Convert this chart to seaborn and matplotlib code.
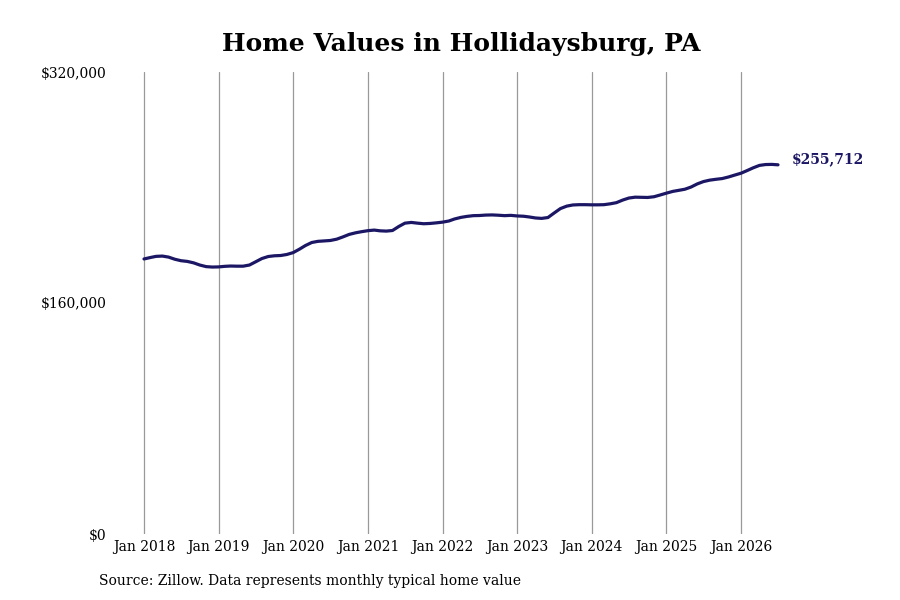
import pandas as pd
import numpy as np
import matplotlib
matplotlib.use("Agg")
import matplotlib.pyplot as plt
import matplotlib.dates as mdates
import matplotlib.ticker as mticker
import seaborn as sns

# monthly typical home value, Jan 2018 - Jul 2026
values_2018 = [190500, 191500, 192300, 192500, 191800, 190300, 189300, 188800, 187800, 186300, 185200, 184900]
values_2019 = [185000, 185400, 185600, 185500, 185500, 186300, 188500, 190800, 192200, 192700, 192900, 193600]
values_2020 = [194900, 197300, 199800, 201900, 202700, 203000, 203300, 204200, 205800, 207500, 208600, 209400]
values_2021 = [210100, 210500, 210000, 209800, 210200, 213000, 215300, 215800, 215300, 214900, 215100, 215500]
values_2022 = [216000, 216800, 218200, 219300, 220000, 220500, 220600, 220900, 221000, 220800, 220500, 220700]
values_2023 = [220300, 220100, 219600, 218900, 218600, 219200, 222300, 225400, 227100, 227900, 228100, 228100]
values_2024 = [228000, 228000, 228100, 228700, 229500, 231300, 232700, 233300, 233200, 233100, 233600, 234800]
values_2025 = [236100, 237300, 238000, 238800, 240300, 242500, 244100, 245100, 245700, 246200, 247300, 248600]
values_2026 = [249900, 251800, 253600, 255300, 255900, 256000, 255712]

home_values = (values_2018 + values_2019 + values_2020 + values_2021 + values_2022
               + values_2023 + values_2024 + values_2025 + values_2026)
dates = pd.date_range("2018-01-01", periods=len(home_values), freq="MS")
tick_years = list(range(2018, 2027))

df = pd.DataFrame({"date": dates, "value": home_values})

sns.set_style("white")
plt.rcParams["font.family"] = ["DejaVu Serif"]
plt.rcParams["text.color"] = "black"
plt.rcParams["xtick.color"] = "black"
plt.rcParams["ytick.color"] = "black"

navy = "#1c1764"
fig = plt.figure(figsize=(9, 6), dpi=100)
ax = fig.add_axes([112 / 900, 66 / 600, 688 / 900, 462 / 600])

sns.lineplot(data=df, x="date", y="value", color=navy, linewidth=2.3, ax=ax)

d0 = mdates.date2num(pd.Timestamp("2018-01-01"))
ax.set_xlim(d0 - 156.6, d0 + 3210.6)
ax.set_ylim(0, 320000)

ax.set_xticks([pd.Timestamp(f"{y}-01-01") for y in tick_years])
ax.set_xticklabels([f"Jan {y}" for y in tick_years], fontsize=10)
ax.set_yticks([0, 160000, 320000])
ax.yaxis.set_major_formatter(mticker.FuncFormatter(lambda v, p: f"${v:,.0f}"))
ax.tick_params(axis="y", labelsize=10, length=0, pad=4, labelcolor="black")
ax.tick_params(axis="x", length=0, pad=4, labelcolor="black")

ax.grid(axis="x", color="#999999", linewidth=0.9)
ax.grid(axis="y", visible=False)
for s in ax.spines.values():
    s.set_visible(False)
ax.set_xlabel("")
ax.set_ylabel("")

last_date = df["date"].iloc[-1]
last_val = df["value"].iloc[-1]
ax.annotate(f"${last_val:,.0f}", xy=(last_date, last_val), xytext=(10, 4),
            textcoords="offset points", color=navy, fontsize=10,
            fontweight="bold", va="center", ha="left")

fig.text(461 / 900, 0.927, "Home Values in Hollidaysburg, PA", ha="center", va="center",
         fontsize=18, fontweight="bold", color="black")
fig.text(99 / 900, 1 - 581 / 600, "Source: Zillow. Data represents monthly typical home value",
         ha="left", va="center", fontsize=10, color="black")

fig.savefig("out.png", dpi=100)
